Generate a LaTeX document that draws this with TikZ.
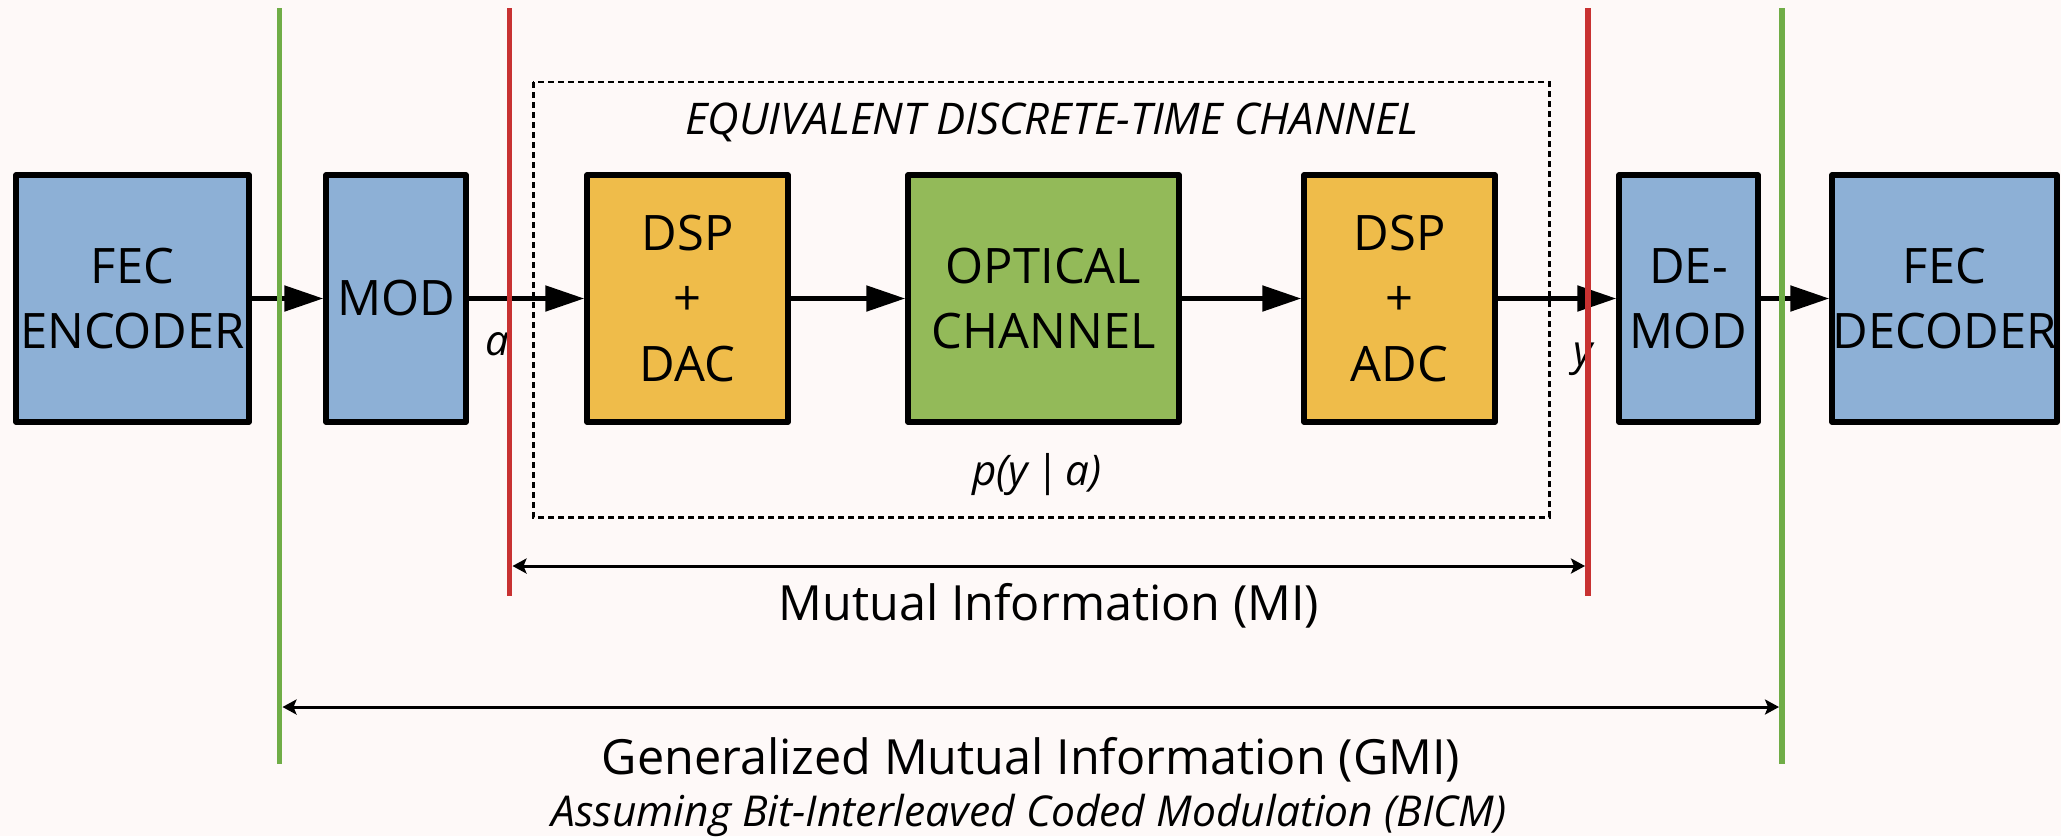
\documentclass[tikz,border=0pt]{standalone}
\usepackage{fontspec}
\setmainfont{Open Sans}
\usetikzlibrary{arrows.meta}

\definecolor{paper}{HTML}{FEF9F8}
\definecolor{blockblue}{HTML}{8DB0D6}
\definecolor{blockorange}{HTML}{EFBC4A}
\definecolor{blockgreen}{HTML}{93BA59}
\definecolor{gmigreen}{HTML}{70AD47}
\definecolor{mired}{HTML}{C83232}

\newcommand\blockfont{\fontsize{13.9}{18.5}\selectfont}
\newcommand\captionfont{\fontsize{13.8}{17}\selectfont}
\newcommand\titlefont{\fontsize{12.4}{15}\selectfont\itshape}
\newcommand\smallitfont{\fontsize{12}{14}\selectfont\itshape}

\begin{document}
\begin{tikzpicture}[x=0.01cm, y=-0.01cm,
  block/.style={draw=black, line width=1.5pt, line join=round,
    minimum height=2.47cm, inner sep=0pt, align=center, font=\blockfont},
  signal/.style={line width=1.45pt, -{Triangle[length=0.39cm, width=0.25cm]}},
  span/.style={line width=0.85pt, {Stealth[length=0.14cm, width=0.15cm, inset=0.03cm]}-{Stealth[length=0.14cm, width=0.15cm, inset=0.03cm]}},
  boundary/.style={line width=1.7pt},
  channelframe/.style={line width=0.85pt, dash pattern=on 0.06cm off 0.04cm},
  label/.style={inner sep=0pt, anchor=base}]

  % page
  \fill[paper] (0,0) rectangle (2061,836);
  \useasboundingbox (0,0) rectangle (2061,836);

  % discrete-time channel frame
  \draw[channelframe] (533,82) rectangle (1549,517);
  \node[label, font=\titlefont] (title) at (1052,134) {EQUIVALENT DISCRETE-TIME CHANNEL};
  \node[label, font=\smallitfont] (pyx) at (1037,485) {p(y\,|\,a)};

  % processing blocks
  \node[block, fill=blockblue,   minimum width=2.33cm] (enc)   at (132.5,298.5) {FEC\\ENCODER};
  \node[block, fill=blockblue,   minimum width=1.40cm] (mod)   at (396,298.5)   {MOD};
  \node[block, fill=blockorange, minimum width=2.01cm] (dac)   at (687.5,298.5) {DSP\\+\\DAC};
  \node[block, fill=blockgreen,  minimum width=2.71cm] (opt)   at (1043.5,298.5) {OPTICAL\\CHANNEL};
  \node[block, fill=blockorange, minimum width=1.91cm] (adc)   at (1399.5,298.5) {DSP\\+\\ADC};
  \node[block, fill=blockblue,   minimum width=1.39cm] (demod) at (1688.5,298.5) {DE-\\MOD};
  \node[block, fill=blockblue,   minimum width=2.25cm] (dec)   at (1944.5,298.5) {FEC\\DECODER};

  % signal path
  \draw[signal] (enc.east) -- (mod.west);
  \draw[signal] (mod.east) -- (dac.west);
  \draw[signal] (dac.east) -- (opt.west);
  \draw[signal] (opt.east) -- (adc.west);
  \draw[signal] (adc.east) -- (demod.west);
  \draw[signal] (demod.east) -- (dec.west);

  % symbol labels
  \node[label, font=\smallitfont] (sa) at (497,355) {a};
  \node[label, font=\smallitfont] (sy) at (1583,365) {y};

  % measurement boundaries
  \coordinate (gLt) at (279.5,8);  \coordinate (gLb) at (279.5,764);
  \coordinate (rLt) at (509.5,8);  \coordinate (rLb) at (509.5,596);
  \coordinate (rRt) at (1588,8);   \coordinate (rRb) at (1588,596);
  \coordinate (gRt) at (1782,8);   \coordinate (gRb) at (1782,764);
  \draw[boundary, gmigreen] (gLt) -- (gLb);
  \draw[boundary, gmigreen] (gRt) -- (gRb);
  \draw[boundary, mired] (rLt) -- (rLb);
  \draw[boundary, mired] (rRt) -- (rRb);

  % spans
  \coordinate (miL) at (512.5,566);  \coordinate (miR) at (1585,566);
  \coordinate (gmiL) at (282.5,707); \coordinate (gmiR) at (1779,707);
  \draw[span] (miL) -- (miR);
  \draw[span] (gmiL) -- (gmiR);
  \node[label, font=\captionfont] (mi) at (1049,620) {Mutual Information (MI)};
  \node[label, font=\captionfont] (gmi) at (1031,774) {Generalized Mutual Information (GMI)};
  \node[label, font=\fontsize{12.1}{14}\selectfont\itshape] (bicm) at (1029,826) {Assuming Bit-Interleaved Coded Modulation (BICM)};
\end{tikzpicture}
\end{document}
